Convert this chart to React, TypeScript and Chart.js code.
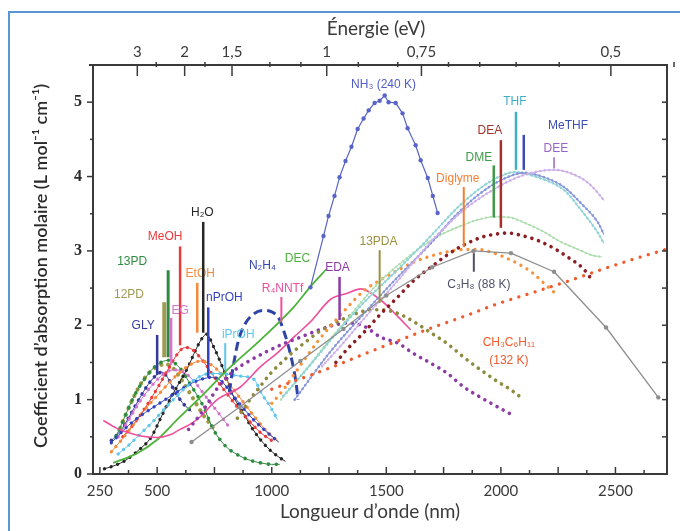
import React, { useEffect, useRef } from "react";
import { Chart, registerables } from "chart.js";
Chart.register(...registerables);

// ---------- axis data ----------
const X_MIN = 220;
const X_MAX = 2725;
const Y_MIN = 0;
const Y_MAX = 5.5;
const X_TICKS = [250, 500, 1000, 1500, 2000, 2500];
const X_TICK_LABELS = ["250", "500", "1000", "1500", "2000", "2500"];
const E_TICKS = [3, 2, 1.5, 1, 0.75, 0.5];
const E_TICK_LABELS = ["3", "2", "1,5", "1", "0,75", "0,5"];
const E_MINOR = [2.5, 1.75, 1.25, 1.1, 0.9, 0.8, 0.7, 0.65, 0.6, 0.55, 0.45];
const Y_TICKS = [0, 1, 2, 3, 4, 5];
const HC = 1240; // nm·eV

// ---------- series data: [wavelength nm, coefficient] ----------
const GLY = [[300,0.45],[340,0.58],[380,0.78],[420,1.0],[460,1.2],[500,1.34],[520,1.37],[545,1.3],[575,1.12],[610,0.96],[650,0.84]];
const PD12 = [[340,0.62],[370,0.85],[400,1.05],[430,1.22],[465,1.36],[500,1.44],[535,1.48],[570,1.42],[610,1.25],[650,1.05],[700,0.8],[750,0.6]];
const PD13 = [[320,0.5],[360,0.78],[400,1.05],[450,1.3],[500,1.47],[550,1.53],[600,1.42],[650,1.18],[700,0.92],[745,0.6],[800,0.37],[850,0.26],[900,0.19],[950,0.15],[1000,0.13],[1035,0.13]];
const EG = [[330,0.5],[380,0.75],[430,1.0],[480,1.2],[530,1.35],[570,1.4],[610,1.38],[660,1.25],[710,1.05],[760,0.85],[810,0.65]];
const MEOH = [[350,0.5],[400,0.68],[450,0.9],[500,1.15],[550,1.42],[590,1.62],[620,1.7],[650,1.68],[700,1.52],[750,1.3],[800,1.1],[850,0.9],[900,0.72],[950,0.56],[1000,0.45]];
const ETOH = [[300,0.3],[350,0.48],[400,0.68],[450,0.88],[500,1.05],[550,1.22],[600,1.37],[650,1.48],[690,1.52],[730,1.48],[780,1.35],[830,1.15],[880,0.95],[930,0.75],[980,0.57],[1030,0.43]];
const H2O = [[270,0.07],[320,0.12],[360,0.18],[415,0.31],[475,0.5],[515,0.75],[555,1.0],[595,1.22],[635,1.44],[670,1.68],[695,1.82],[715,1.88],[745,1.72],[790,1.4],[832,1.05],[876,0.82],[920,0.59],[980,0.36],[1030,0.23],[1060,0.17]];
const NPROH = [[300,0.42],[350,0.58],[400,0.72],[450,0.83],[500,0.93],[550,1.03],[600,1.13],[650,1.22],[700,1.28],[740,1.3],[780,1.25],[830,1.06],[880,0.87],[930,0.7],[980,0.56],[1030,0.43]];
const IPROH = [[330,0.27],[380,0.4],[430,0.55],[480,0.7],[530,0.87],[580,1.03],[630,1.18],[680,1.3],[730,1.35],[780,1.35],[830,1.33],[880,1.31],[920,1.28],[960,1.06],[995,0.9],[1025,0.73]];
const N2H4 = [[815,1.1],[832,1.45],[855,1.8],[880,2.0],[920,2.15],[960,2.2],[1000,2.18],[1030,2.1],[1055,1.9],[1070,1.75],[1090,1.5],[1105,1.25],[1115,1.0]];
const DEC = [[308,0.15],[413,0.28],[500,0.46],[587,0.73],[688,1.03],[806,1.4],[950,1.8],[1095,2.24],[1169,2.52],[1240,2.76]];
const R4NNTF = [[265,0.72],[320,0.62],[369,0.56],[430,0.51],[500,0.49],[560,0.53],[600,0.6],[650,0.68],[688,0.77],[762,1.0],[863,1.17],[950,1.44],[1025,1.63],[1100,1.85],[1170,2.05],[1257,2.35],[1330,2.43],[1388,2.49],[1475,2.34],[1540,2.15],[1606,1.94]];
const EDA = [[637,0.6],[700,0.85],[762,1.15],[832,1.38],[907,1.53],[981,1.65],[1051,1.75],[1125,1.84],[1200,1.93],[1270,2.0],[1330,2.03],[1401,1.99],[1475,1.84],[1550,1.76],[1619,1.62],[1694,1.49],[1768,1.35],[1838,1.17],[1912,1.03],[1987,0.9],[2052,0.79]];
const PDA13 = [[850,0.75],[900,0.98],[950,1.18],[1000,1.37],[1050,1.52],[1100,1.66],[1150,1.78],[1200,1.9],[1257,2.0],[1330,2.11],[1401,2.19],[1475,2.21],[1550,2.16],[1619,2.05],[1694,1.9],[1768,1.75],[1838,1.57],[1912,1.4],[1987,1.24],[2040,1.14],[2100,1.0]];
const NH3 = [[1169,2.51],[1226,3.2],[1248,3.47],[1274,3.74],[1296,3.99],[1322,4.21],[1348,4.4],[1375,4.64],[1401,4.78],[1423,4.89],[1449,4.99],[1471,5.02],[1493,5.09],[1510,5.0],[1541,4.99],[1571,4.85],[1593,4.65],[1628,4.42],[1650,4.22],[1681,3.98],[1703,3.74],[1724,3.51]];
const DIGLYME = [[1000,0.95],[1050,1.13],[1100,1.35],[1150,1.57],[1200,1.78],[1260,2.0],[1330,2.24],[1400,2.46],[1480,2.62],[1550,2.74],[1620,2.85],[1694,2.93],[1770,2.99],[1838,3.02],[1900,3.02],[1960,2.98],[2020,2.91],[2080,2.82],[2140,2.7],[2190,2.56],[2230,2.45]];
const DME = [[1040,1.0],[1100,1.22],[1180,1.52],[1257,1.82],[1340,2.12],[1420,2.42],[1500,2.67],[1580,2.88],[1660,3.07],[1740,3.22],[1820,3.33],[1900,3.42],[1970,3.46],[2040,3.45],[2110,3.37],[2180,3.27],[2250,3.14],[2330,3.03],[2400,2.94],[2440,2.92]];
const DEA = [[1280,1.5],[1330,1.68],[1401,1.9],[1475,2.15],[1550,2.38],[1619,2.6],[1694,2.78],[1768,2.95],[1838,3.08],[1912,3.18],[1987,3.23],[2030,3.24],[2100,3.2],[2170,3.13],[2240,3.02],[2300,2.9],[2360,2.76],[2400,2.6]];
const THF = [[1050,1.05],[1150,1.4],[1257,1.8],[1400,2.3],[1550,2.75],[1694,3.2],[1800,3.55],[1900,3.82],[1987,3.99],[2060,4.06],[2150,4.0],[2275,3.82],[2350,3.55],[2424,3.24],[2450,3.1]];
const METHF = [[1100,1.0],[1257,1.65],[1400,2.15],[1550,2.65],[1694,3.1],[1800,3.47],[1900,3.75],[2000,3.95],[2100,4.05],[2180,4.0],[2275,3.86],[2350,3.64],[2424,3.38],[2450,3.22]];
const DEE = [[1220,1.45],[1300,1.72],[1400,2.08],[1550,2.6],[1694,3.12],[1838,3.55],[1987,3.86],[2100,4.02],[2232,4.09],[2350,3.98],[2400,3.86],[2450,3.68]];
const C3H8 = [[650,0.43],[860,0.9],[1125,1.52],[1313,1.95],[1500,2.4],[1700,2.78],[1880,3.0],[2044,2.97],[2232,2.72],[2459,1.97],[2687,1.03]];
const CH3C6H11 = [[1000,1.14],[1257,1.43],[1401,1.61],[1550,1.79],[1694,1.96],[1840,2.12],[1987,2.29],[2150,2.45],[2300,2.6],[2440,2.75],[2580,2.89],[2720,3.02]];

// ---------- series styles ----------
type Kind = "dots" | "dotsLine" | "line" | "dash" | "lineMarks";
const SERIES: { pts: number[][]; color: string; kind: Kind; w?: number; dot?: number; gap?: number }[] = [
  { pts: C3H8, color: "#8e8e8e", kind: "lineMarks", w: 1.3 },
  { pts: CH3C6H11, color: "#ef5a2e", kind: "dots", dot: 3.3, gap: 8.5 },
  { pts: DEE, color: "#cdb0ea", kind: "dotsLine", w: 1.1, dot: 2.6, gap: 4.5 },
  { pts: METHF, color: "#8696da", kind: "dotsLine", w: 1.1, dot: 2.6, gap: 4.5 },
  { pts: THF, color: "#8fd4d4", kind: "dotsLine", w: 1.1, dot: 2.6, gap: 4.5 },
  { pts: DME, color: "#aedeae", kind: "dotsLine", w: 1.1, dot: 2.4, gap: 4.5 },
  { pts: DEA, color: "#8b1e22", kind: "dots", dot: 3.6, gap: 7 },
  { pts: DIGLYME, color: "#f7913a", kind: "dots", dot: 3.3, gap: 7 },
  { pts: NH3, color: "#5864c8", kind: "lineMarks", w: 1.2 },
  { pts: PDA13, color: "#8d8a3c", kind: "dots", dot: 3.6, gap: 7 },
  { pts: EDA, color: "#8d3aa6", kind: "dots", dot: 3.6, gap: 7 },
  { pts: R4NNTF, color: "#ef4f9c", kind: "line", w: 1.6 },
  { pts: DEC, color: "#4cb33a", kind: "line", w: 1.8 },
  { pts: N2H4, color: "#2f44a8", kind: "dash", w: 3 },
  { pts: IPROH, color: "#5ec6ea", kind: "dotsLine", w: 1, dot: 3.3, gap: 7 },
  { pts: NPROH, color: "#3444c0", kind: "dotsLine", w: 1, dot: 3.3, gap: 7 },
  { pts: ETOH, color: "#f5893c", kind: "dotsLine", w: 1, dot: 3.3, gap: 7 },
  { pts: MEOH, color: "#ea3a3c", kind: "dotsLine", w: 1, dot: 3.3, gap: 7 },
  { pts: EG, color: "#d474cc", kind: "dotsLine", w: 1, dot: 3.3, gap: 7 },
  { pts: H2O, color: "#262626", kind: "dotsLine", w: 1, dot: 3.3, gap: 7 },
  { pts: PD13, color: "#2e8c40", kind: "dotsLine", w: 1, dot: 3.6, gap: 8 },
  { pts: PD12, color: "#9c9a42", kind: "dots", dot: 4.2, gap: 7 },
  { pts: GLY, color: "#343a9c", kind: "dotsLine", w: 1, dot: 3.6, gap: 7 },
];

// ---------- labels: text, x (nm), y, color, leader x (nm), leader y top, leader y bottom, leader width ----------
const LABELS: [string, number, number, string, number | null, number, number, number][] = [
  ["NH\u2083 (240 K)", 1488, 5.24, "#4f5cc4", null, 0, 0, 0],
  ["THF", 2061, 5.01, "#3fb0c4", 2066, 4.87, 4.09, 2.5],
  ["MeTHF", 2293, 4.69, "#3d4db4", 2100, 4.56, 4.09, 2.5],
  ["DEA", 1952, 4.61, "#a8302c", 2000, 4.49, 3.31, 2.5],
  ["DEE", 2240, 4.38, "#9a63c6", 2232, 4.26, 4.11, 1.5],
  ["DME", 1904, 4.26, "#3f9a4a", 1969, 4.15, 3.45, 2.5],
  ["Diglyme", 1812, 3.97, "#f47f30", 1838, 3.86, 3.05, 2],
  ["C\u2083H\u2088 (88 K)", 1904, 2.55, "#4f5068", 1882, 2.97, 2.72, 2],
  ["CH\u2083C\u2086H\u2081\u2081", 2035, 1.76, "#ee5a2e", null, 0, 0, 0],
  ["(132 K)", 2035, 1.52, "#ee5a2e", null, 0, 0, 0],
  ["13PDA", 1466, 3.13, "#9a9140", 1471, 3.01, 2.3, 2],
  ["EDA", 1287, 2.78, "#8d3aa6", 1296, 2.65, 2.07, 2.5],
  ["DEC", 1112, 2.9, "#4cb33a", null, 0, 0, 0],
  ["N\u2082H\u2084", 959, 2.8, "#3346b0", null, 0, 0, 0],
  ["R\u2084NNTf", 1047, 2.49, "#ef4f9c", 1042, 2.38, 2.04, 2],
  ["iPrOH", 854, 1.87, "#5ec6ea", 797, 1.76, 1.4, 2],
  ["nPrOH", 793, 2.37, "#3444c0", 723, 2.24, 1.3, 2.5],
  ["EtOH", 688, 2.69, "#f5893c", 675, 2.57, 1.9, 2.5],
  ["H\u2082O", 697, 3.51, "#262626", 701, 3.39, 1.9, 2.5],
  ["MeOH", 535, 3.19, "#ea3a3c", 600, 3.06, 1.73, 2.5],
  ["13PD", 391, 2.85, "#2e8c40", 548, 2.74, 1.57, 3],
  ["12PD", 377, 2.41, "#a09a52", 531, 2.31, 1.57, 4],
  ["EG", 600, 2.2, "#d474cc", 561, 2.1, 1.47, 2.5],
  ["GLY", 439, 2.0, "#343a9c", 500, 1.87, 1.33, 2.5],
];

function buildDatasets() {
  const out: any[] = [];
  SERIES.forEach((s) => {
    const data = s.pts.map((p) => ({ x: p[0], y: p[1] }));
    const base = {
      data,
      fill: false,
      pointRadius: 0,
      pointHoverRadius: 0,
      cubicInterpolationMode: s.kind === "lineMarks" ? "default" : "monotone",
      tension: 0,
      borderJoinStyle: "round",
    };
    if (s.kind === "line") {
      out.push({ ...base, borderColor: s.color, borderWidth: s.w });
    } else if (s.kind === "dash") {
      out.push({ ...base, borderColor: s.color, borderWidth: s.w, borderDash: [9, 5] });
    } else if (s.kind === "lineMarks") {
      out.push({
        ...base,
        borderColor: s.color,
        borderWidth: s.w,
        pointRadius: 2.2,
        pointBackgroundColor: s.color,
        pointBorderWidth: 0,
      });
    } else {
      if (s.kind === "dotsLine") {
        out.push({ ...base, borderColor: s.color, borderWidth: s.w });
      }
      out.push({
        ...base,
        borderColor: s.color,
        borderWidth: s.dot,
        borderDash: [0.01, s.gap],
        borderCapStyle: "round",
      });
    }
  });
  return out;
}

const overlayPlugin = {
  id: "overlay",
  afterDraw(chart: any) {
    const { ctx, chartArea: a, scales } = chart;
    const xs = scales.x;
    const ys = scales.y;
    const line = (x1: number, y1: number, x2: number, y2: number) => {
      ctx.beginPath();
      ctx.moveTo(x1, y1);
      ctx.lineTo(x2, y2);
      ctx.stroke();
    };
    ctx.save();
    // leaders and labels
    ctx.lineCap = "butt";
    LABELS.forEach(([text, x, y, color, lx, ly1, ly2, lw]) => {
      if (lx !== null) {
        ctx.strokeStyle = color;
        ctx.lineWidth = lw;
        const px = xs.getPixelForValue(lx);
        line(px, ys.getPixelForValue(ly1), px, ys.getPixelForValue(ly2));
      }
      ctx.fillStyle = color;
      ctx.font = '12px "Liberation Sans", Arial, sans-serif';
      ctx.textAlign = "center";
      ctx.textBaseline = "middle";
      ctx.fillText(text, xs.getPixelForValue(x), ys.getPixelForValue(y));
    });

    // frame
    ctx.strokeStyle = "#3a3a3a";
    ctx.lineWidth = 2;
    ctx.strokeRect(a.left, a.top, a.right - a.left, a.bottom - a.top);
    line(a.left - 4, a.top, a.left, a.top);
    ctx.lineWidth = 1.5;
    // bottom ticks (inward)
    for (let v = 250; v < X_MAX; v += 125) {
      const px = xs.getPixelForValue(v);
      const len = v % 250 === 0 ? 7 : 4;
      line(px, a.bottom, px, a.bottom - len);
    }
    // top ticks
    E_TICKS.forEach((e) => {
      const px = xs.getPixelForValue(HC / e);
      line(px, a.top, px, a.top + 11);
    });
    E_MINOR.forEach((e) => {
      const px = xs.getPixelForValue(HC / e);
      line(px, a.top - 3, px, a.top + 2);
    });
    // left ticks (outward) and right ticks (inward)
    for (let v = 0.5; v < Y_MAX; v += 0.5) {
      const py = ys.getPixelForValue(v);
      const major = Math.abs(v - Math.round(v)) < 1e-6;
      line(a.left - (major ? 6 : 3), py, a.left, py);
      line(a.right - 5, py, a.right, py);
    }
    line(a.left - 6, ys.getPixelForValue(0), a.left, ys.getPixelForValue(0));

    // axis titles
    ctx.fillStyle = "#3a3a3a";
    ctx.textAlign = "center";
    ctx.textBaseline = "middle";
    ctx.font = '19px Lato, "Open Sans", sans-serif';
    ctx.fillText("\u00c9nergie (eV)", 376, 29);
    ctx.fillText("Longueur d\u2019onde (nm)", 370, 512);
    ctx.save();
    ctx.translate(41, 266);
    ctx.rotate(-Math.PI / 2);
    ctx.fillStyle = "#2a2a2a";
    ctx.font = '600 18px Lato, "Open Sans", sans-serif';
    ctx.fillText("Coefficient d\u2019absorption molaire (L mol\u207b\u00b9 cm\u207b\u00b9)", 0, 0);
    ctx.restore();
    ctx.restore();
  },
};

export default function App() {
  const ref = useRef<HTMLCanvasElement>(null);
  useEffect(() => {
    if (!ref.current) return;
    const chart = new Chart(ref.current, {
      type: "line",
      data: { datasets: buildDatasets() },
      options: {
        animation: false,
        responsive: false,
        devicePixelRatio: 1,
        layout: { padding: { left: 0, right: 13, top: 0, bottom: 0 } },
        plugins: { legend: { display: false }, tooltip: { enabled: false }, title: { display: false } },
        events: [],
        scales: {
          x: {
            type: "linear",
            position: "bottom",
            min: X_MIN,
            max: X_MAX,
            grid: { display: false, drawTicks: false },
            border: { display: false },
            afterBuildTicks: (ax: any) => {
              ax.ticks = X_TICKS.map((v) => ({ value: v }));
            },
            afterFit: (ax: any) => {
              ax.height = 57;
            },
            ticks: {
              autoSkip: false,
              maxRotation: 0,
              padding: 8,
              color: "#3a3a3a",
              font: { family: 'Lato, "Open Sans", sans-serif', size: 15 },
              callback: (_v: any, i: number) => X_TICK_LABELS[i],
            },
          },
          x2: {
            type: "linear",
            position: "top",
            min: X_MIN,
            max: X_MAX,
            grid: { display: false, drawTicks: false },
            border: { display: false },
            afterBuildTicks: (ax: any) => {
              ax.ticks = E_TICKS.map((e) => ({ value: HC / e }));
            },
            afterFit: (ax: any) => {
              ax.height = 65;
            },
            ticks: {
              autoSkip: false,
              maxRotation: 0,
              padding: 4,
              color: "#3a3a3a",
              font: { family: 'Lato, "Open Sans", sans-serif', size: 15 },
              callback: (_v: any, i: number) => E_TICK_LABELS[i],
            },
          },
          y: {
            type: "linear",
            position: "left",
            min: Y_MIN,
            max: Y_MAX,
            grid: { display: false, drawTicks: false },
            border: { display: false },
            afterBuildTicks: (ax: any) => {
              ax.ticks = Y_TICKS.map((v) => ({ value: v }));
            },
            afterFit: (ax: any) => {
              ax.width = 93;
            },
            ticks: {
              padding: 11,
              color: "#2a2a2a",
              font: { family: '"Liberation Serif", "DejaVu Serif", serif', size: 16, weight: "bold" },
              callback: (v: any) => String(v),
            },
          },
        },
      },
      plugins: [overlayPlugin],
    } as any);
    return () => chart.destroy();
  }, []);

  return (
    <div style={{ position: "fixed", left: 0, top: 0, width: 680, height: 531, background: "#ffffff", overflow: "hidden" }}>
      <div
        style={{
          position: "absolute",
          left: 8,
          top: 11,
          right: -4,
          bottom: -4,
          borderLeft: "2px solid #5a96d2",
          borderTop: "2px solid #5a96d2",
        }}
      />
      <canvas ref={ref} width={680} height={531} style={{ position: "absolute", left: 0, top: 0, width: 680, height: 531 }} />
    </div>
  );
}
